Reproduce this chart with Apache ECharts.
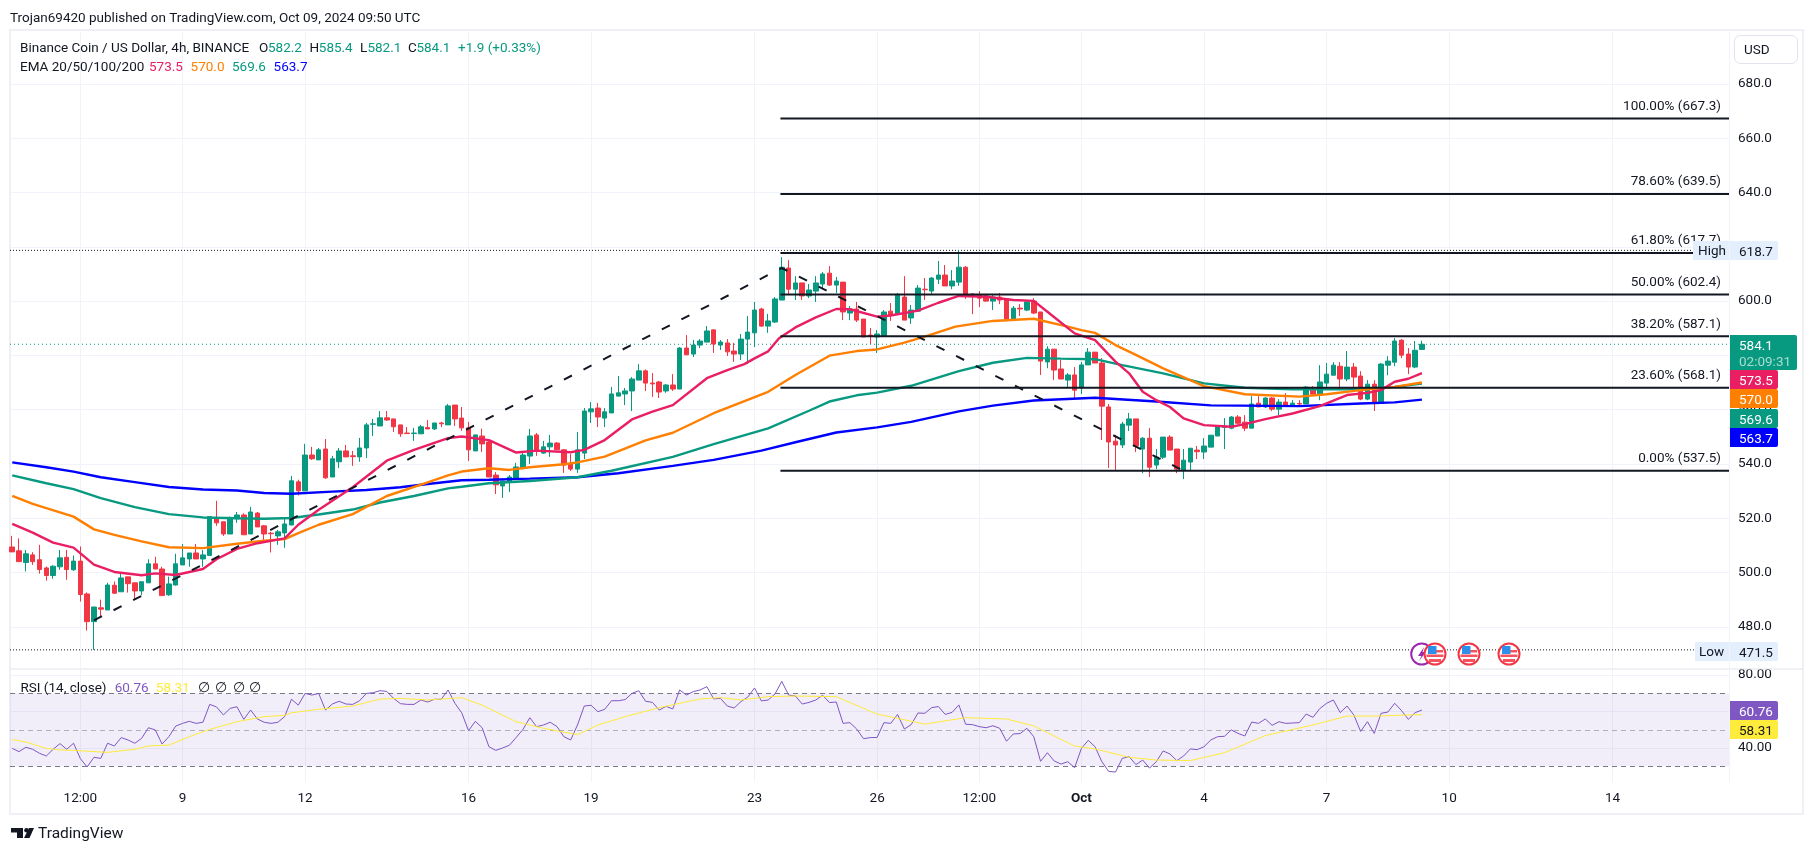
<!DOCTYPE html>
<html><head><meta charset="utf-8"><title>BNB/USD</title>
<script src="https://cdn.jsdelivr.net/npm/echarts@6/dist/echarts.min.js"></script>
<style>html,body{margin:0;padding:0;background:#fff}#c{width:1814px;height:853px}</style></head>
<body><div id="c"></div><script>
const firstBar=-25;
const opens=[509.4,508,503.7,506.5,504.7,501.7,498.9,502.1,505.6,501,
504.2,492.1,481.9,487,486.2,495.3,492.9,498.4,496.2,493.2,
496.2,503.2,501.3,491.8,495.4,502.8,505,507.2,505,506.3,
519.8,518.7,514.2,519.8,521.2,514.2,521.9,517.2,514.5,513.5,
514.6,517.5,533.4,530.1,543.3,541.5,545.5,535.2,540.8,544.8,
543,542.6,545.9,554.6,554,557,556.6,554.4,551.4,551.2,
551.1,553.4,552.9,555.1,554.4,561.7,556.9,553.3,544.8,550.3,
548.1,535.9,531.9,533.4,534.8,538.5,542.9,550.7,544,546.3,
547.7,545.2,540,538.1,544,559.2,560.6,556.9,558.8,565,
565.8,566.9,570.9,574.3,569.8,570.2,566.9,569.1,567.6,582.7,
580.5,583.8,584.9,589.4,583.8,584.6,581.6,580.5,586,588.3,
597.1,590.8,592.3,600.4,612.2,604.4,606.7,601.9,603.7,606.3,
610.3,605.9,607,595.6,597.1,593.4,587.5,586.8,587.1,596.3,
595.2,601.5,593.8,596.3,604.4,603.7,608.1,609.6,605.6,607,
612.5,602.6,602.2,601.9,600,601.5,600.8,593.4,597.4,596.7,
600,596,577.6,582.3,575,570.9,572.8,568,576.5,581.2,
577.2,561,548.4,547,554.3,556.6,545.5,549.5,539.6,542.5,
549.9,545.5,537.7,540.7,545.1,544.4,546.2,550.3,553.5,553.2,
557.3,555.4,553.2,562.4,561,564.3,560.2,562.8,561.3,562.3,
562.1,567.2,565.7,569.8,572.7,576,571.3,575.7,572.4,563.9,
569.4,562.4,576.4,577.5,585.6,580.5,575.7,582.2];
const closes=[507.6,504,506.9,504,501.1,498.9,502.3,505.4,501.1,504.2,
491.9,481.9,487.3,486.5,495.4,492.4,498,495.9,493.2,496.6,
503.2,501.3,491.5,495.8,503.2,505.4,507.2,505,506.5,520.6,
518.3,514.2,520.1,521.2,513.9,522.3,516.8,514.2,514.3,515,
517.9,533.8,530.1,543.3,541.9,545.2,534.9,541.9,544.8,542.6,
542.7,545.9,554.4,554.8,557,556.2,553.7,551.1,551.2,551.4,
553.7,552.9,555.1,554.8,561.4,556.6,553.3,545.2,550.7,547.4,
535.2,532.3,533.7,535.2,538.9,543.3,550.3,545.2,546.3,547.7,
545.2,539.6,538.1,545.2,559.5,560.3,557.3,559.2,565.8,566.2,
566.9,571.3,574.3,569.8,569.5,566.5,569.1,567.6,582.7,580.2,
583.8,585.3,589,584.2,584.9,581.3,580.5,586,588.6,596.7,
590.8,592.7,600.8,612.5,604.4,606.7,601.9,604.1,606.7,610,
605.9,607.4,596,597.1,593,586.8,587.1,587.9,596,594.9,
602.2,593,596.7,604.8,604.2,608.5,609.6,605.6,607.4,612.5,
602.2,602.2,601.1,600,601.5,600.4,593.4,597.4,597.1,599.7,
595.6,577.9,582.3,574.6,571.3,572.8,567.2,576.5,581.2,577.2,
561.3,548.1,547,554.7,556.6,546.6,549.5,538.8,542.5,549.9,
545.1,538.1,541.4,545.8,544.5,546.6,550.6,553.6,553.7,557.3,
555,553.2,562.1,561,564.3,560.2,562.8,561.3,562.4,562.1,
568.3,565.7,570.2,573.1,576.4,571.3,575.7,572,563.9,569.4,
562.4,576.8,577.9,585.3,580.1,575.7,581.9,584.1];
const highs=[513.5,512.6,508.3,507.5,510.2,502.2,502.7,508.3,508.3,506.3,
509.6,492.7,487.3,490,496.2,496.7,499.5,498.4,496.2,496.6,
504.9,505.8,502.1,498.5,506.9,510.5,507.2,510.5,508.3,520.6,
526.4,518.7,520.6,522.3,521.8,524.2,522.3,517.5,515,515.7,
520.4,535.6,534.2,547.4,546.3,545.9,549.2,543,545.9,547,
544.8,549.6,555.1,556.6,559.5,559.5,556.6,554.4,553.6,553.3,
554.4,556.2,555.1,555.5,562.1,561.7,561,555.5,550.7,553,
548.8,537,533.7,535.9,540.4,544.4,552.9,551.4,548.5,550.7,
548.1,545.5,543.7,551.8,560.6,562.8,562.5,560.6,568.4,572.4,
568,572,576.8,574.8,573.5,570.6,569.5,573.1,583.1,587.5,
585.7,586,590.8,589.7,585.7,586,584.6,587.9,594.5,599.7,
597.5,595.3,601.5,616.2,615.1,609.2,606.7,606.3,609.2,610.7,
612.9,608.9,607,598.2,599.7,593.4,590.1,589.3,596.7,599.3,
603,609.2,598.6,605.9,608.5,608.9,614.8,613.3,611.4,618.7,
612.9,603,603.7,602.6,602.6,603,601.1,598.2,598.9,600,
601.1,596,583.4,582.3,578.3,573.5,575.7,577.6,582.7,581.2,
579,562.1,550.7,555.5,558.8,556.6,549.9,553.2,545.5,549.9,
550.6,545.5,545.5,545.8,546.6,549.5,550.6,554.3,556.9,557.6,
558,558,565,565,564.6,564.6,563.9,566.1,563.5,563.5,
568.7,568.7,576.4,577.2,577.5,577.5,581.6,577.2,574.2,570.9,
570.9,577.2,579.7,586.4,586,582.7,585.3,585.4];
const lows=[507.6,504,500.4,502.8,499.6,497,497.7,501,497.3,500.6,
489.3,478.6,471.5,483.8,486.2,492.1,492.9,492.6,489.9,491.6,
496.2,501.3,491.5,491.4,495.2,502.8,502.1,505,502.1,506.3,
517.2,513.5,514.2,518.3,513.9,514.2,516.8,511,507.4,510.2,
509.1,517.5,528.4,530.1,541.5,541.5,534.5,535.2,538.5,542.6,
539.3,540.8,542.2,550.3,554,555.9,551.8,550,551.2,548.5,
551.1,552.9,552.5,553.6,554.4,554,552.2,541.1,544.8,544.4,
535.2,528.9,527.5,529.7,534.8,538,540,543,543.7,542.6,
545.2,536.7,537.4,536.7,541.8,555.1,553.6,553.6,558.8,565,
561.7,559.5,570.9,566.9,564.7,564.3,566.2,566.9,567.6,580.2,
579.4,582.7,584.9,580.9,582,579.8,577.6,578.3,576.8,583.1,
590.5,588.3,591.9,600.4,602.6,600.4,600.4,601.1,599.7,604.8,
605.6,603,593,593,592.3,586.8,584.2,580.9,587.1,592.7,
595.2,593,591.6,596.3,600.4,602.6,606.3,605.6,604.4,605.6,
600.8,595.2,597.8,599.7,596.7,598.9,593.4,593,594.5,596.3,
595.2,572.8,575.3,570.9,571.3,568,564.3,565.8,576.5,577.2,
548.8,538.5,537.4,545.9,552.1,544.4,536.6,535.2,538.1,541.8,
545.1,536.6,534.4,537.4,541.8,541.8,546.2,550.3,545.5,552.8,
554.7,552.1,553.2,561,560.6,559.5,558,561.3,561,561,
562.1,565.4,563.5,568,572.7,567.2,570.5,567.2,563.5,563.5,
559.5,562.1,572.7,576,579,573.1,575.3,582.1];

const ema20=[[-25,517.9],[-22,514.7],[-19,511],[-16,509.2],[-13,502.9],[-10,500.2],[-6,499],[-4,499.7],[-1,499.1],[3,501.3],[5,504.9],[8,508.7],[11,510.8],[15,512.6],[17,517.6],[20,523.1],[25,531.4],[30,541.2],[34,545.2],[39,549.5],[41,550.1],[45,548.8],[49,544.2],[52,544.9],[57,544.3],[59,545.2],[62,548.8],[66,556.4],[69,559.3],[72,561.7],[77,571.6],[80,574.6],[82.5,576.8],[84,578.9],[86,581.5],[87.6,586.3],[90,590.3],[93,594],[96,597.1],[98,597],[102,594.3],[104,594.7],[108,596.5],[111,599.4],[114,601.9],[118,601.6],[122,600.4],[125,600.1],[127,596.1],[131,588.1],[134,585.6],[137,577.7],[139,573.4],[141,566.6],[143,563.5],[145,561],[147,556.8],[150,554.3],[154,553.7],[156,554.7],[159,556.5],[163,558.6],[167,561.3],[171,565.4],[174,566.2],[176,567.2],[178,570.3],[180,571.4],[182,573.5]];
const ema50=[[-25,528.2],[-22,525.3],[-16,520.6],[-13,515.9],[-10,513.9],[-6,511.5],[-2,509.3],[3,509],[8,510.6],[12,511.7],[15,512.3],[17,514.5],[20,517.6],[25,521.5],[30,528.2],[36,533.2],[39,535.8],[41,537.2],[45,538.4],[48,537.8],[51,538.8],[56,539.9],[58,540.6],[62,542.7],[68,548.7],[72,551.5],[78,558.7],[86,566.6],[90,572.8],[95,579.9],[99,581.6],[102,582.2],[106,584.7],[109,586.9],[113.5,590.6],[119,592.7],[125,593.5],[130,590.6],[132,589.3],[134,588.3],[137,583.8],[140,580.2],[144,575.2],[150,568.7],[156,565.7],[164,564.8],[168,565.7],[173,567.2],[178,568.4],[182,570]];
const ema100=[[-25,535.8],[-20,532.9],[-16,530.7],[-12,527.4],[-7,524.1],[-2,521.5],[3,520.3],[8,520],[12,519.8],[16,520.1],[20,521.4],[25,523.2],[29,525.8],[34,528.2],[39,531],[41,531.6],[45,532.9],[51,533.7],[58,535.1],[63,537.5],[72,542.6],[78,547.3],[86,553.1],[92,559.6],[95,563],[99,565.3],[102,566.3],[107,568.8],[114,574.2],[119,577.3],[124,579.1],[129,578.8],[134,578.6],[138,576.4],[144,573.4],[150,569.7],[156,568.1],[163,567.5],[171,567.5],[178,568.4],[182,569.6]];
const ema200=[[-25,540.6],[-20,538.8],[-16,537.2],[-12,535.1],[-7,533.3],[-2,531.5],[3,530.6],[8,530.2],[12,529.3],[16,529],[22,529.8],[27,530.4],[32,531.4],[36,532.6],[41,534],[45,534.2],[51,534.6],[58,535.1],[64,536.6],[72,539.3],[78,541.5],[85,544.9],[90,548],[96,551.6],[102,553.5],[107,555.5],[114,559.4],[119,561.5],[125,563.4],[134,564.4],[140,563.5],[143,563],[151,561.6],[164,561.3],[173,562.3],[178,562.7],[182,563.7]];

const rsi=[39.8,38,40.4,39.3,37.1,35.6,39.3,42.4,39.3,42.6,34.2,29.6,34.9,34.3,42.6,41.1,45.7,44.4,42.6,45.3,51.1,49.9,42.2,46.2,52,53.5,54.6,53.5,54.1,63.9,62.5,58.1,61.7,62.6,55.7,60.8,55.9,54.1,53.5,54.1,57.2,66.7,63.5,69.9,69,69.9,60.8,64.1,65.6,64.1,63.9,65.9,69.9,70.3,71.4,71,67.2,64.3,63.9,63.9,66.3,65.2,66.7,66.7,71.8,64.5,59.3,49.5,54.6,51.1,40.7,38.7,40,41.5,45.8,50.2,56.6,51.7,52.6,54.1,51.7,46.2,44.4,52.6,63,63.4,59.9,61.2,65.9,65.9,66.5,69.9,71.4,65.6,65,60.8,62.8,61.4,71.8,69,70.9,71.8,
73.6,66.9,67.2,63,61.9,65.4,67.9,72.9,65.8,66.3,69.6,76.5,69,68.5,64.1,65,66.3,68.9,64.9,65.2,53.5,53.9,50.4,45.1,45.7,45.8,53.9,53.5,58.4,50.4,52.8,59.2,59,62.1,62.7,58.4,59.5,63.6,53,52.8,51.7,51.1,52.2,50.8,43.7,47.7,47.9,50.8,46.2,32.7,37.4,32.9,31.2,32.5,29.2,39.8,44.2,40.7,32.5,27.2,26.8,34.3,35.3,30.9,33.4,29,32.5,38.4,36.7,33.1,35.6,39.5,39.1,40.7,44.4,46.2,46.4,49.9,48,46.6,54.2,53.5,55.9,52.4,54.4,53.5,53.7,53.9,58.6,56.8,61.6,64.5,66.3,59.4,63,58.1,49.1,54.4,48,59,59.7,64.5,60.5,55.7,59.4,60.76];
const rsiMa=[[-25,44.7],[-23,43.3],[-20,39.8],[-18,38.9],[-16,38.7],[-11,37.6],[-7,39.3],[-5,41.1],[-2,41.6],[1,46.2],[4,50.2],[8,54.4],[12,57.2],[15,57.9],[16,59.3],[20,61.2],[25,63],[29,66.8],[32,67.2],[36,66.3],[41,67.6],[44,63.5],[49,54.4],[53,50.8],[58,47.3],[61,52.6],[65,57.2],[70,62.1],[76,66.9],[79,67.6],[82,66.3],[86,68.1],[90,68.5],[96,68.1],[102,58.6],[109,53.1],[115,56.6],[121,55.9],[125,52.1],[131,41.1],[134,39.5],[139,34.9],[143,33.4],[148,33.1],[153,37.4],[159,46.8],[166,52.6],[171,57.5],[175,57.5],[182,58.31]];

const fibLevels=[['100.00%',667.3],['78.60%',639.5],['61.80%',617.7],['50.00%',602.4],['38.20%',587.1],['23.60%',568.1],['0.00%',537.5]];
const zigzag=[[-13,482.4],[88,612.2],[147,537.5]];
const highPrice=618.7, lowPrice=471.5, lastPrice=584.1;
const priceTicks=[680,660,640,620,600,580,560,540,520,500,480];
const rsiGridTicks=[80,60,40];
const rsiLabelTicks=[80,40];
const timeTicks=[-15,0,18,42,60,84,102,117,132,150,168,186,210];
const timeLabels=['12:00','9','12','16','19','23','26','12:00','Oct','4','7','10','14'];

const FONT='Roboto, sans-serif', INK='#131722', UP='#089981', DOWN='#F23645', GRID='#f0f3fa', FS=13.5;
const xMin=-25.33, xMax=227.09;
const candles=opens.map((o,k)=>[firstBar+k,o,closes[k],lows[k],highs[k]]);
const rsiSeries=rsi.map((v,k)=>[firstBar+k,v]);

function lineS(name,data,color,width,extra){
  return Object.assign({name,type:'line',data,showSymbol:false,symbol:'none',smooth:false,animation:false,silent:true,
    lineStyle:{color,width},xAxisIndex:0,yAxisIndex:0,z:6},extra||{});
}
const xBase={type:'value',min:xMin,max:xMax,axisLine:{show:false},
  axisTick:{show:false,customValues:timeTicks},
  splitLine:{show:true,lineStyle:{color:GRID,width:1}}};
const series=[
 {name:'Price',type:'candlestick',data:candles,encode:{x:0,y:[1,2,3,4]},barWidth:5,animation:false,silent:true,z:5,
  itemStyle:{color:UP,color0:DOWN,borderColor:UP,borderColor0:DOWN,borderWidth:1}},
 lineS('High',[[xMin,highPrice],[xMax,highPrice]],INK,1,{lineStyle:{color:INK,width:1,type:[1,2]},z:3}),
 lineS('Low',[[xMin,lowPrice],[xMax,lowPrice]],INK,1,{lineStyle:{color:INK,width:1,type:[1,2]},z:3}),
 lineS('Last',[[xMin,lastPrice],[xMax,lastPrice]],UP,1,{lineStyle:{color:UP,width:1,type:[1,3]},z:3}),
 lineS('EMA 200',ema200,'#0000FF',2.4),
 lineS('EMA 100',ema100,'#089981',2.4),
 lineS('EMA 50',ema50,'#FF7F00',2.4),
 lineS('EMA 20',ema20,'#E91E63',2.4),
 lineS('Zigzag',zigzag,INK,2,{lineStyle:{color:INK,width:2,type:[9,13]},z:8})
];
fibLevels.forEach(f=>{
  series.push(lineS('Fib '+f[0],[[87.8,f[1]],[xMax,f[1]]],INK,2,{z:8,
    endLabel:{show:true,formatter:f[0]+' ('+f[1].toFixed(1)+')',align:'right',offset:[-16,-12],color:INK,fontFamily:FONT,fontSize:FS}}));
});
series.push(
 {name:'RSI',type:'line',data:rsiSeries,showSymbol:false,symbol:'none',animation:false,silent:true,xAxisIndex:1,yAxisIndex:1,z:6,
  lineStyle:{color:'#7E57C2',width:1},
  markArea:{silent:true,itemStyle:{color:'rgba(126,87,194,0.1)'},data:[[{yAxis:70},{yAxis:30}]]},
  markLine:{silent:true,symbol:'none',animation:false,label:{show:false},data:[
    {yAxis:70,lineStyle:{color:'#787B86',type:[5,4],width:1}},
    {yAxis:50,lineStyle:{color:'rgba(120,123,134,0.55)',type:[5,4],width:1}},
    {yAxis:30,lineStyle:{color:'#787B86',type:[5,4],width:1}}]}},
 {name:'RSI MA',type:'line',data:rsiMa,showSymbol:false,symbol:'none',animation:false,silent:true,xAxisIndex:1,yAxisIndex:1,z:6,
  lineStyle:{color:'#FFEB3B',width:1}}
);

function t(x,y,text,fill,size,extra){
  return {type:'text',x,y:y+1.3,z:100,silent:true,style:Object.assign({text,fill:fill||INK,font:(size||FS)+'px '+FONT,verticalAlign:'middle'},extra||{})};
}
function r(x,y,w,h,fill,extra){return {type:'rect',z:99,silent:true,shape:Object.assign({x,y,width:w,height:h},extra&&extra.shape||{}),style:Object.assign({fill},extra&&extra.style||{})};}
function tag(x,y,w,h,fill,txt,col){return [r(x,y,w,h,fill,{shape:{r:[0,2,2,0]}}),t(x+9,y+h/2+0.5,txt,col)];}
function flag(cx,cy){
  const red='#F7525F';
  return [
   {type:'circle',z:101,silent:true,shape:{cx,cy,r:10.5},style:{fill:'#fff',stroke:'#F23645',lineWidth:2}},
   {type:'rect',z:102,silent:true,shape:{x:cx+1,y:cy-4,width:7,height:2.5},style:{fill:red}},
   {type:'rect',z:102,silent:true,shape:{x:cx-8.5,y:cy+0.5,width:17,height:2.5},style:{fill:red}},
   {type:'rect',z:102,silent:true,shape:{x:cx-6,y:cy+5,width:12,height:3},style:{fill:red}},
   {type:'rect',z:103,silent:true,shape:{x:cx-7,y:cy-8,width:8.5,height:8},style:{fill:'#2E8FEA'}}
  ];
}
const graphics=[
 {type:'rect',z:1,silent:true,shape:{x:10,y:30,width:1793,height:784},style:{fill:'none',stroke:'#eef0f6',lineWidth:2}},
 {type:'line',z:2,silent:true,shape:{x1:10,y1:669,x2:1803,y2:669},style:{stroke:'#e0e3eb',lineWidth:1}},
 {type:'line',z:2,silent:true,shape:{x1:1729.5,y1:31,x2:1729.5,y2:782},style:{stroke:'#f0f3fa',lineWidth:1}},
 t(10,17,'Trojan69420 published on TradingView.com, Oct 09, 2024 09:50 UTC'),
 t(20,47,'Binance Coin / US Dollar, 4h, BINANCE'),
 t(259,47,'O'),t(268,47,'582.2',UP),t(309.6,47,'H'),t(318.8,47,'585.4',UP),t(360,47,'L'),t(367.4,47,'582.1',UP),t(408,47,'C'),t(416.4,47,'584.1',UP),t(458,47,'+1.9 (+0.33%)',UP),
 t(20,66,'EMA 20/50/100/200'),t(149,66,'573.5','#E91E63'),t(190.6,66,'570.0','#FF7F00'),t(232,66,'569.6',UP),t(273.6,66,'563.7','#0000FF'),
 t(20.5,687,'RSI (14, close)'),t(114.7,687,'60.76','#7E57C2'),t(155.8,687,'58.31','#FFEB3B'),t(198,687,'∅'),t(215,687,'∅'),t(232.6,687,'∅'),t(249,687,'∅'),
 {type:'rect',z:99,silent:true,shape:{x:1734.5,y:35.5,width:63,height:28,r:6},style:{fill:'#fff',stroke:'#e0e3eb',lineWidth:1}},
 t(1744,49.5,'USD'),
 r(1693,241,36,19,'#E3EFFD'),t(1698,250,'High'),
 ...tag(1730,241,48,19,'#E3EFFD','618.7',INK),
 r(1695,642,34,19,'#E3EFFD'),t(1699,651,'Low'),
 ...tag(1730,642,48,19,'#E3EFFD','471.5',INK),
 r(1730,335,67,35,UP,{shape:{r:[0,2,2,0]}}),t(1739,345,'584.1','#fff'),t(1739,361,'02:09:31','#a9dcd0'),
 ...tag(1730,370,48,19,'#E91E63','573.5','#fff'),
 ...tag(1730,389,48,19,'#FF7F00','570.0','#fff'),
 ...tag(1730,409,48,19,UP,'569.6','#fff'),
 ...tag(1730,428,48,19,'#0000FF','563.7','#fff'),
 ...tag(1730,701,48,19,'#7E57C2','60.76','#fff'),
 ...tag(1730,720,48,19,'#FFEB3B','58.31',INK),
 {type:'circle',z:100,silent:true,shape:{cx:1421.7,cy:654,r:10.5},style:{fill:'#fff',stroke:'#9C27B0',lineWidth:2}},
 {type:'polygon',z:100,silent:true,shape:{points:[[1424,647],[1418,656],[1421.5,656],[1419,661],[1426,652],[1422.5,652]]},style:{fill:'#9C27B0'}},
 ...flag(1435,654),...flag(1469,654),...flag(1509,654),
 {type:'polygon',z:100,silent:true,shape:{points:[[11,828],[23,828],[23,838],[17,838],[17,832.5],[11,832.5]]},style:{fill:INK}},
 {type:'circle',z:100,silent:true,shape:{cx:26.5,cy:830.3,r:2.3},style:{fill:INK}},
 {type:'polygon',z:100,silent:true,shape:{points:[[29,828],[34,828],[29.5,838],[24,838]]},style:{fill:INK}},
 t(38,833,'TradingView',INK,15.5)
];

const chart=echarts.init(document.getElementById('c'),null,{renderer:'canvas',width:1814,height:853});
chart.setOption({
 animation:false,backgroundColor:'#fff',
 textStyle:{fontFamily:FONT},
 grid:[{left:10,right:85,top:32,height:636},{left:10,right:85,top:670,height:112}],
 xAxis:[
  Object.assign({},xBase,{gridIndex:0,axisLabel:{show:false}}),
  Object.assign({},xBase,{gridIndex:1,axisLabel:{show:true,customValues:timeTicks,margin:10,color:INK,fontFamily:FONT,fontSize:FS,
     formatter:v=>{const l=timeLabels[timeTicks.indexOf(v)];return l==='Oct'?'{b|Oct}':l;},rich:{b:{fontWeight:'bold',color:INK,fontFamily:FONT,fontSize:FS}}}})
 ],
 yAxis:[
  {type:'value',gridIndex:0,position:'right',min:464.82,max:699.16,axisLine:{show:false},axisTick:{show:false,customValues:priceTicks},
   splitLine:{show:true,lineStyle:{color:GRID,width:1}},
   axisLabel:{customValues:priceTicks,margin:9,padding:[2,0,0,0],color:INK,fontFamily:FONT,fontSize:FS,formatter:v=>v.toFixed(1)}},
  {type:'value',gridIndex:1,position:'right',min:21.37,max:82.74,axisLine:{show:false},axisTick:{show:false,customValues:rsiGridTicks},
   splitLine:{show:true,lineStyle:{color:GRID,width:1}},
   axisLabel:{customValues:rsiLabelTicks,margin:9,padding:[2,0,0,0],color:INK,fontFamily:FONT,fontSize:FS,formatter:v=>v.toFixed(2)}}
 ],
 series,
 graphic:{elements:graphics}
});
</script></body></html>
